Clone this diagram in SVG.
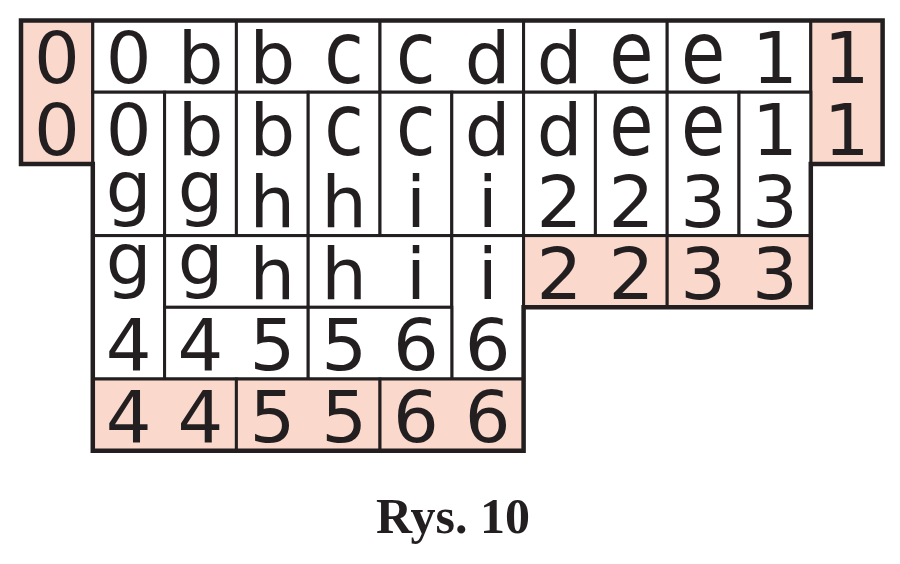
<svg xmlns="http://www.w3.org/2000/svg" width="900" height="564" viewBox="0 0 900 564">
<style>
.w{fill:#ffffff;stroke:#231f20;stroke-width:3}
.p{fill:#fad9cc;stroke:#231f20;stroke-width:3}
.t{font-family:"DejaVu Sans","Verdana",sans-serif;font-size:72px;fill:#231f20;text-anchor:middle}
.outline{fill:none;stroke:#231f20;stroke-width:4.5;stroke-linejoin:miter}
.cap{font-family:"Liberation Serif","Times New Roman",serif;font-weight:bold;font-size:50px;fill:#231f20;text-anchor:middle}
</style>
<rect width="900" height="564" fill="#ffffff"/>
<g id="d01"><rect class="p" x="21" y="20.5" width="71.8" height="143.4"/><text class="t" x="56.9" y="83.4">0</text><text class="t" x="56.9" y="155.1">0</text></g>
<g id="d02"><rect class="w" x="92.8" y="20.5" width="143.6" height="71.7"/><text class="t" x="128.7" y="83.4">0</text><text class="t" x="200.5" y="83.4">b</text></g>
<g id="d03"><rect class="w" x="236.4" y="20.5" width="143.6" height="71.7"/><text class="t" x="272.3" y="83.4">b</text><text class="t" transform="translate(344.1 83.4) scale(1 1.2)">c</text></g>
<g id="d04"><rect class="w" x="380" y="20.5" width="143.6" height="71.7"/><text class="t" transform="translate(415.9 83.4) scale(1 1.2)">c</text><text class="t" x="487.7" y="83.4">d</text></g>
<g id="d05"><rect class="w" x="523.6" y="20.5" width="143.6" height="71.7"/><text class="t" x="559.5" y="83.4">d</text><text class="t" transform="translate(631.3 83.4) scale(1 1.2)">e</text></g>
<g id="d06"><rect class="w" x="667.2" y="20.5" width="143.6" height="71.7"/><text class="t" transform="translate(703.1 83.4) scale(1 1.2)">e</text><text class="t" x="774.9" y="83.4">1</text></g>
<g id="d07"><rect class="p" x="810.8" y="20.5" width="71.8" height="143.4"/><text class="t" x="846.7" y="83.4">1</text><text class="t" x="846.7" y="155.1">1</text></g>
<g id="d08"><rect class="w" x="92.8" y="92.2" width="71.8" height="143.4"/><text class="t" x="128.7" y="155.1">0</text><text class="t" x="128.7" y="212">g</text></g>
<g id="d09"><rect class="w" x="164.6" y="92.2" width="71.8" height="143.4"/><text class="t" x="200.5" y="155.1">b</text><text class="t" x="200.5" y="212">g</text></g>
<g id="d10"><rect class="w" x="236.4" y="92.2" width="71.8" height="143.4"/><text class="t" x="272.3" y="155.1">b</text><text class="t" x="272.3" y="227">h</text></g>
<g id="d11"><rect class="w" x="308.2" y="92.2" width="71.8" height="143.4"/><text class="t" transform="translate(344.1 155.1) scale(1 1.2)">c</text><text class="t" x="344.1" y="227">h</text></g>
<g id="d12"><rect class="w" x="380" y="92.2" width="71.8" height="143.4"/><text class="t" transform="translate(415.9 155.1) scale(1 1.2)">c</text><text class="t" x="415.9" y="227">i</text></g>
<g id="d13"><rect class="w" x="451.8" y="92.2" width="71.8" height="143.4"/><text class="t" x="487.7" y="155.1">d</text><text class="t" x="487.7" y="227">i</text></g>
<g id="d14"><rect class="w" x="523.6" y="92.2" width="71.8" height="143.4"/><text class="t" x="559.5" y="155.1">d</text><text class="t" x="559.5" y="227">2</text></g>
<g id="d15"><rect class="w" x="595.4" y="92.2" width="71.8" height="143.4"/><text class="t" transform="translate(631.3 155.1) scale(1 1.2)">e</text><text class="t" x="631.3" y="227">2</text></g>
<g id="d16"><rect class="w" x="667.2" y="92.2" width="71.8" height="143.4"/><text class="t" transform="translate(703.1 155.1) scale(1 1.2)">e</text><text class="t" x="703.1" y="227">3</text></g>
<g id="d17"><rect class="w" x="739" y="92.2" width="71.8" height="143.4"/><text class="t" x="774.9" y="155.1">1</text><text class="t" x="774.9" y="227">3</text></g>
<g id="d18"><rect class="w" x="92.8" y="235.6" width="71.8" height="143.4"/><text class="t" x="128.7" y="284">g</text><text class="t" x="128.7" y="370.2">4</text></g>
<g id="d19"><rect class="w" x="164.6" y="235.6" width="143.6" height="71.7"/><text class="t" x="200.5" y="284">g</text><text class="t" x="272.3" y="299">h</text></g>
<g id="d20"><rect class="w" x="308.2" y="235.6" width="143.6" height="71.7"/><text class="t" x="344.1" y="299">h</text><text class="t" x="415.9" y="299">i</text></g>
<g id="d21"><rect class="w" x="451.8" y="235.6" width="71.8" height="143.4"/><text class="t" x="487.7" y="299">i</text><text class="t" x="487.7" y="370.2">6</text></g>
<g id="d22"><rect class="p" x="523.6" y="235.6" width="143.6" height="71.7"/><text class="t" x="559.5" y="299">2</text><text class="t" x="631.3" y="299">2</text></g>
<g id="d23"><rect class="p" x="667.2" y="235.6" width="143.6" height="71.7"/><text class="t" x="703.1" y="299">3</text><text class="t" x="774.9" y="299">3</text></g>
<g id="d24"><rect class="w" x="164.6" y="307.3" width="143.6" height="71.7"/><text class="t" x="200.5" y="370.2">4</text><text class="t" x="272.3" y="370.2">5</text></g>
<g id="d25"><rect class="w" x="308.2" y="307.3" width="143.6" height="71.7"/><text class="t" x="344.1" y="370.2">5</text><text class="t" x="415.9" y="370.2">6</text></g>
<g id="d26"><rect class="p" x="92.8" y="379" width="143.6" height="71.7"/><text class="t" x="128.7" y="441.9">4</text><text class="t" x="200.5" y="441.9">4</text></g>
<g id="d27"><rect class="p" x="236.4" y="379" width="143.6" height="71.7"/><text class="t" x="272.3" y="441.9">5</text><text class="t" x="344.1" y="441.9">5</text></g>
<g id="d28"><rect class="p" x="380" y="379" width="143.6" height="71.7"/><text class="t" x="415.9" y="441.9">6</text><text class="t" x="487.7" y="441.9">6</text></g>
<g id="outline"><path class="outline" d="M21 20.5 H882.6 V163.9 H810.8 V307.3 H523.6 V450.7 H92.8 V163.9 H21 Z"/></g>
<g id="caption"><text class="cap" x="453" y="533">Rys. 10</text></g>
</svg>
